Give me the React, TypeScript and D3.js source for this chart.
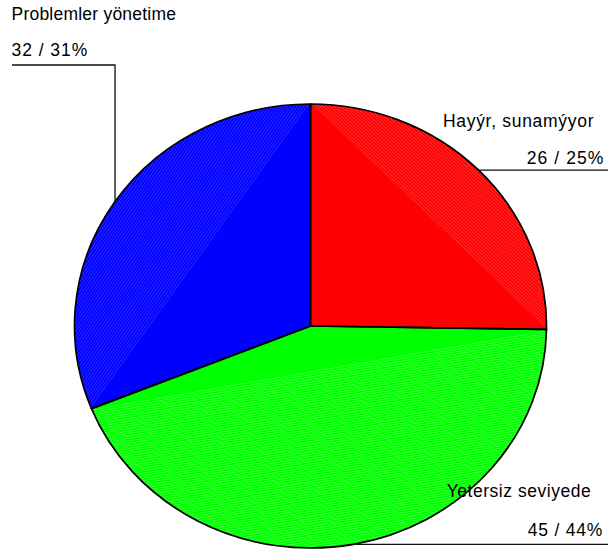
import React from "react";
import * as d3 from "d3";

// Survey answers, in drawing order (clockwise from 12 o'clock)
const categories = ["Hayýr, sunamýyor", "Yetersiz seviyede", "Problemler yönetime"];
const counts = [26, 45, 32];
const percents = [25, 44, 31];
const sliceColors = ["#ff0000", "#00ff00", "#0000ff"];
const hatchColors = ["#ff6a6a", "#7dff7d", "#5a5aff"];

const W = 608;
const H = 551;
const cx = 310.5;
const cy = 326;
const rx = 236;
const ry = 222;
const k = ry / rx;

// label boxes: name line, value line, anchor
const labelLayout = [
  { side: "right", nameX: 593.5, nameY: 126.5, nameW: 150.6, valX: 603.3, valY: 163.5, valW: 76.6 },
  { side: "right", nameX: 590.7, nameY: 497, nameW: 144, valX: 602.3, valY: 535.7, valW: 74.6 },
  { side: "left", nameX: 11.5, nameY: 19.5, nameW: 164.5, valX: 11.5, valY: 56, valW: 75.8 },
];

export default function App() {
  const pie = d3
    .pie<number>()
    .sort(null)
    .value((d) => d);
  const arcs = pie(counts);
  const arc = d3.arc<d3.PieArcDatum<number>>().innerRadius(0).outerRadius(rx);

  const onEllipse = (a: number) => [cx + rx * Math.sin(a), cy - ry * Math.cos(a)];

  // circular segment between chord and arc (pre-scaled space)
  const segment = (a0: number, a1: number) => {
    const p = d3.path();
    p.moveTo(rx * Math.sin(a0), -rx * Math.cos(a0));
    p.arc(0, 0, rx, a0 - Math.PI / 2, a1 - Math.PI / 2, false);
    p.closePath();
    return p.toString();
  };
  const chordAngle = (a0: number, a1: number) => {
    const x0 = rx * Math.sin(a0), y0 = -rx * Math.cos(a0);
    const x1 = rx * Math.sin(a1), y1 = -rx * Math.cos(a1);
    return (Math.atan2(y1 - y0, x1 - x0) * 180) / Math.PI;
  };

  const font = "'Liberation Sans', Arial, sans-serif";

  return (
    <svg
      width={W}
      height={H}
      style={{ position: "absolute", left: 0, top: 0, background: "#fff" }}
    >
      <defs>
        {arcs.map((a, i) => (
          <pattern
            key={i}
            id={`hatch${i}`}
            patternUnits="userSpaceOnUse"
            width={8}
            height={2.6}
            patternTransform={`rotate(${chordAngle(a.startAngle, a.endAngle)})`}
          >
            <rect width={8} height={2.6} fill={sliceColors[i]} />
            <rect width={8} height={0.6} y={1} fill={hatchColors[i]} opacity={0.7} />
          </pattern>
        ))}
      </defs>
      <g transform={`translate(${cx},${cy}) scale(1,${k})`}>
        {arcs.map((a, i) => (
          <path key={`s${i}`} d={arc(a) || ""} fill={sliceColors[i]} />
        ))}
        {arcs.map((a, i) => (
          <path key={`h${i}`} d={segment(a.startAngle, a.endAngle)} fill={`url(#hatch${i})`} />
        ))}
        {arcs.map((a, i) => (
          <path
            key={`o${i}`}
            d={arc(a) || ""}
            fill="none"
            stroke="#000"
            strokeWidth={1.7}
            strokeLinejoin="round"
            vectorEffect="non-scaling-stroke"
          />
        ))}
      </g>
      {arcs.map((a, i) => {
        const mid = (a.startAngle + a.endAngle) / 2;
        const [px, py] = onEllipse(mid);
        const L = labelLayout[i];
        const d =
          L.side === "left"
            ? `M12,65H${px}V${py}`
            : `M${px},${py}H${W}`;
        return <path key={`l${i}`} d={d} fill="none" stroke="#111" strokeWidth={1.3} />;
      })}
      {labelLayout.map((L, i) => {
        const anchor = L.side === "left" ? "start" : "end";
        return (
          <g key={`t${i}`} fontFamily={font} fontSize={17.5} fill="#000" textAnchor={anchor}>
            <text x={L.nameX} y={L.nameY} textLength={L.nameW} lengthAdjust="spacing">
              {categories[i]}
            </text>
            <text x={L.valX} y={L.valY} textLength={L.valW} lengthAdjust="spacing">
              {`${counts[i]} / ${percents[i]}%`}
            </text>
          </g>
        );
      })}
    </svg>
  );
}
